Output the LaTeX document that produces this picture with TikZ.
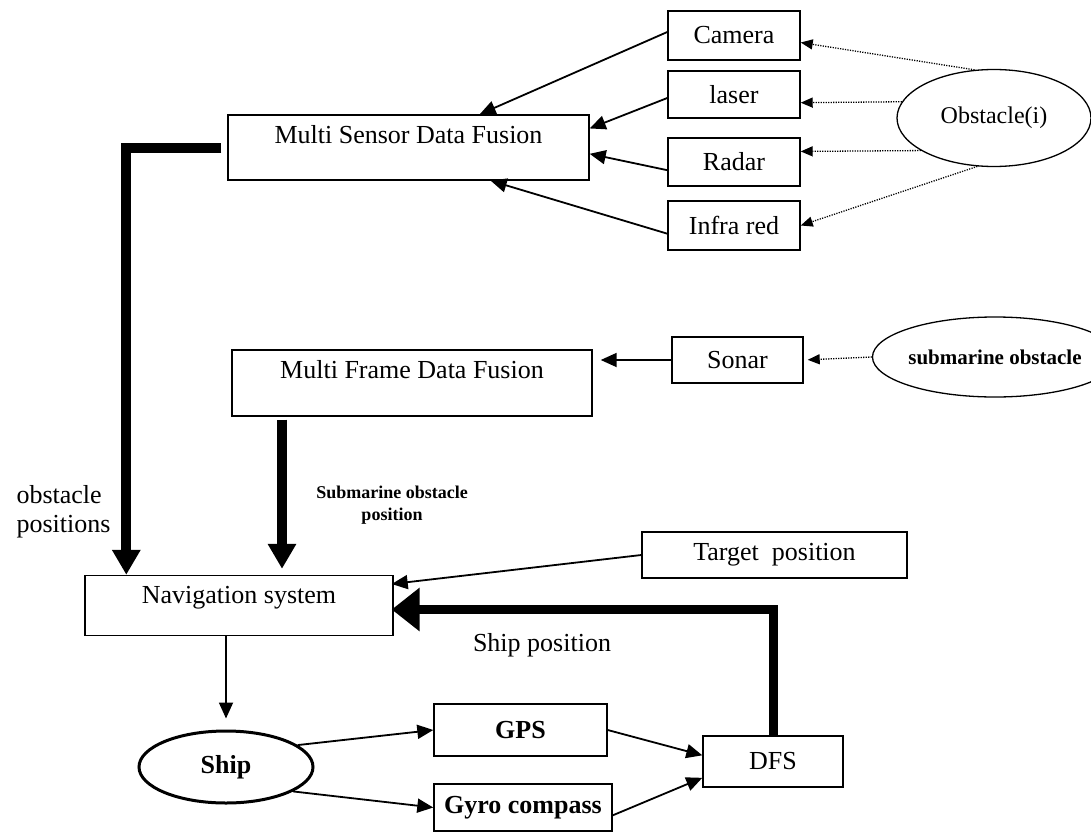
\documentclass[tikz,border=0pt]{standalone}
\usepackage{fontspec}
\setmainfont{Liberation Serif}
\usetikzlibrary{positioning,shapes.geometric,arrows.meta}

\begin{document}
\begin{tikzpicture}[x=1pt, y=-1pt,
    box/.style={draw, line width=1.4pt, inner sep=0pt, font=\fontsize{26}{30}\selectfont},
    topbox/.style={box, text height=28pt, text depth=#1},
    oval/.style={ellipse, draw, line width=1.3pt, inner sep=0pt},
    arr/.style={line width=1.8pt, -{Triangle[length=16pt, width=14pt]}},
    dotarr/.style={line width=1.3pt, dash pattern=on 1.2pt off 1.3pt, -{Triangle[length=12pt, width=10pt]}},
    fat/.style={line width=10pt, -{Triangle[length=25pt, width=27pt]}},
    lbl/.style={font=\fontsize{26}{29}\selectfont}
]
    \useasboundingbox (0,0) rectangle (1091,832);

    % Sensors and obstacle
    \node[box, minimum width=132pt, minimum height=49pt] (camera) at (734, 35.5) {Camera};
    \node[box, minimum width=132pt, minimum height=47pt] (laser) at (734, 94.5) {laser};
    \node[box, minimum width=132pt, minimum height=48pt] (radar) at (734, 162) {Radar};
    \node[box, minimum width=132pt, minimum height=49pt] (infra) at (734, 225.5) {Infra red};
    \node[oval, minimum width=194pt, minimum height=97pt, font=\fontsize{24}{28}\selectfont] (obst) at (994, 118) {Obstacle(i)};
    \node[topbox=37pt, minimum width=361pt] (msdf) at (408.5, 147.5) {Multi Sensor Data Fusion};

    % Underwater branch
    \node[box, minimum width=131pt, minimum height=46pt] (sonar) at (737.5, 360) {Sonar};
    \node[oval, minimum width=196pt, minimum height=80pt, font=\bfseries\fontsize{21}{24}\selectfont] (subobst) at (995, 357) {submarine obstacle};
    \node[topbox=38pt, minimum width=360pt] (mfdf) at (412, 383) {Multi Frame Data Fusion};

    % Navigation loop
    \node[box, minimum width=265pt, minimum height=46pt] (target) at (774.5, 555) {Target~ position};
    \node[topbox=32pt, minimum width=308pt] (nav) at (239, 605.5) {Navigation system};
    \node[oval, line width=3pt, minimum width=174pt, minimum height=72pt, font=\bfseries\fontsize{26}{30}\selectfont] (ship) at (226, 767) {Ship};
    \node[box, minimum width=173pt, minimum height=52pt, font=\bfseries\fontsize{26}{30}\selectfont] (gps) at (520.5, 730) {GPS};
    \node[box, minimum width=178pt, minimum height=47pt, font=\bfseries\fontsize{26}{30}\selectfont] (gyro) at (523, 807.5) {Gyro compass};
    \node[box, minimum width=140pt, minimum height=51pt] (dfs) at (773, 761.5) {DFS};

    % Labels
    \node[lbl, align=left, anchor=west] (obslbl) at (13, 512) {obstacle\\positions};
    \node[align=center, font=\bfseries\fontsize{18}{22}\selectfont] (sublbl) at (392, 505) {Submarine obstacle\\position};
    \node[lbl] (shiplbl) at (542, 645) {Ship position};

    % Connectors
    \draw[arr] (camera.177) -- (msdf.25);
    \draw[arr] (laser.183) -- (msdf.6);
    \draw[arr] (radar.187) -- (msdf.358);
    \draw[arr] (infra.187) -- (msdf.338);
    \draw[dotarr] (obst.112) -- (camera.-6);
    \draw[dotarr] (obst.170) -- (laser.-7);
    \draw[dotarr] (obst.204) -- (radar.9);
    \draw[dotarr] (obst.251) -- (infra.east);
    \draw[dotarr, shorten >=4pt] (subobst.west) -- (sonar.east);
    \draw[arr, shorten >=8pt] (sonar.west) -- (sonar.west -| mfdf.east);
    \draw[fat] ([xshift=-6pt]msdf.west) -| ([xshift=42pt]nav.north west);
    \draw[fat, shorten <=3pt, shorten >=6pt] ([xshift=-130pt]mfdf.south) -- ([xshift=-130pt]mfdf.south |- nav.north);
    \draw[arr, shorten >=-2pt] (target.west) -- (nav.8);
    \draw[line width=9pt, -{Triangle[length=28pt, width=42pt]}, shorten >=-2pt] (dfs.north) |- ([yshift=-4pt]nav.east);
    \draw[arr, shorten >=11pt] (ship.north |- nav.south) -- (ship.north);
    \draw[arr] (ship.17) -- (gps.west);
    \draw[arr] (ship.-20) -- (gyro.west);
    \draw[arr] (gps.east) -- (dfs.175);
    \draw[arr] (gyro.-5) -- (dfs.193);
\end{tikzpicture}
\end{document}
